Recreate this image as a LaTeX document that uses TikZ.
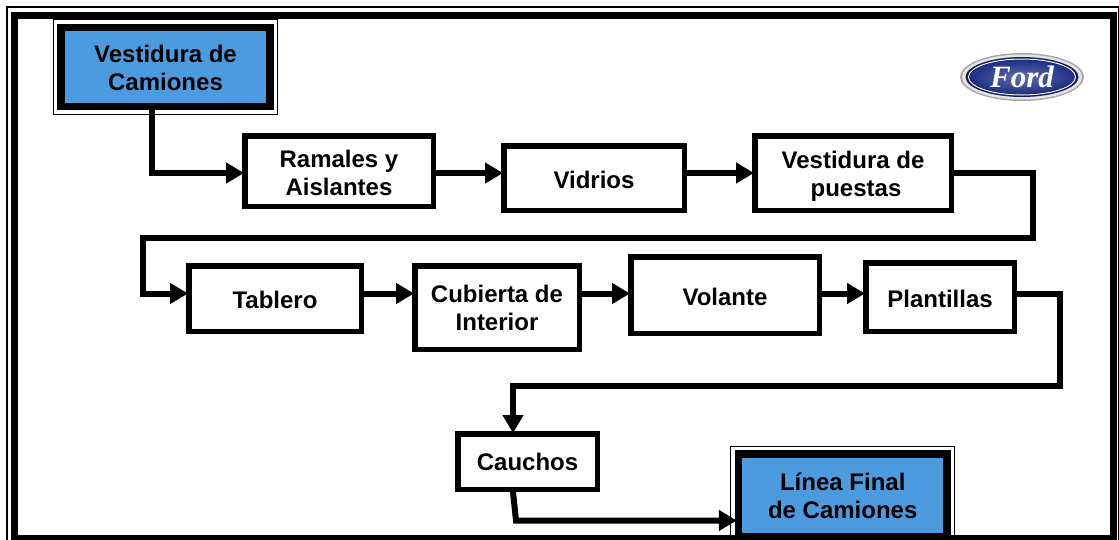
\documentclass[tikz,border=0pt]{standalone}
\usepackage{fontspec}
\setmainfont{Liberation Sans}
\newfontfamily\logofont{Liberation Serif}
\usetikzlibrary{arrows.meta}
\definecolor{boxblue}{HTML}{4D9BDF}
\definecolor{logoblue}{HTML}{1E2F86}
\definecolor{logodark}{HTML}{141E5A}
\newcommand\lowr[2]{\raisebox{-#1}[\height][\depth]{#2}}
\tikzset{
  procbox/.style={draw=black,line width=5.5pt,fill=white,align=center,inner sep=0pt,
    font=\fontsize{24}{28}\selectfont\bfseries},
  termbox/.style={procbox,line width=7.5pt,fill=boxblue},
  conn/.style={line width=6pt,draw=black,-{Triangle[length=18pt,width=20pt]},shorten >=-2pt,line join=miter},
  thin frame/.style={draw=black,line width=1.3pt},
}
\begin{document}
\begin{tikzpicture}[x=1pt,y=-1pt]
\path[use as bounding box,clip] (0,0) rectangle (1119,539);
\fill[white] (0,0) rectangle (1119,539);

% bend points
\coordinate (b1) at (1033,238);
\coordinate (b2) at (143,238);
\coordinate (b3) at (1060,386);
\coordinate (b4) at (513,386);
\coordinate (b5) at (516,520.5);

% boxes
\node[termbox,minimum width=209pt,minimum height=79pt] (start) at (165.5,67) {\lowr{1pt}{Vestidura de}\\\lowr{1pt}{Camiones}};
\node[procbox,minimum width=188.5pt,minimum height=70.5pt] (ram) at (339,171) {\lowr{2pt}{Ramales y}\\\lowr{2pt}{Aislantes}};
\node[procbox,minimum width=180.5pt,minimum height=64.5pt] (vid) at (594,178) {\lowr{2pt}{Vidrios}};
\node[procbox,minimum width=196.5pt,minimum height=74.5pt] (pue) at (853,173) {\lowr{3pt}{Vestidura de}\\\lowr{3pt}{\hspace*{6pt}puestas}};
\node[procbox,minimum width=172.5pt,minimum height=65.5pt] (tab) at (275,298.5) {\lowr{1.5pt}{Tablero}};
\node[procbox,minimum width=164.5pt,minimum height=83.5pt] (cub) at (497,307.5) {Cubierta de\\Interior};
\node[procbox,minimum width=188.5pt,minimum height=76.5pt] (vol) at (725,295) {\lowr{2pt}{Volante}};
\node[procbox,minimum width=148.5pt,minimum height=68.5pt] (pla) at (940,297) {\lowr{2pt}{Plantillas}};
\node[procbox,minimum width=139.5pt,minimum height=55.5pt] (cau) at (527.5,461.5) {Cauchos};
\node[termbox,minimum width=208.5pt,minimum height=83pt] (fin) at (842.75,495.5) {Línea Final\\de Camiones};

% thin outlines round the two blue boxes
\draw[thin frame] ([xshift=-4pt,yshift=4pt]start.north west) rectangle ([xshift=4pt,yshift=-4pt]start.south east);
\draw[thin frame] ([xshift=-4pt,yshift=4pt]fin.north west) rectangle ([xshift=4pt,yshift=-4pt]fin.south east);

% connectors
\draw[conn] ([xshift=-13.5pt]start.south) |- ([yshift=-2pt]ram.west);
\draw[conn] ([yshift=-2pt]ram.east) -- ([yshift=5pt]vid.west);
\draw[conn] ([yshift=5pt]vid.east) -- (pue.west);
\draw[conn] (pue.east) -| (b1) -- (b2) |- ([yshift=5pt]tab.west);
\draw[conn] ([yshift=5pt]tab.east) -- ([yshift=14pt]cub.west);
\draw[conn] ([yshift=14pt]cub.east) -- ([yshift=1.5pt]vol.west);
\draw[conn] ([yshift=1.5pt]vol.east) -- ([yshift=3.5pt]pla.west);
\draw[conn] ([yshift=3.5pt]pla.east) -| (b3) -- (b4) -- ([xshift=-14.5pt]cau.north);
\draw[conn] ([xshift=-14.5pt]cau.south) -- (b5) -- ([yshift=-25pt]fin.west);

% outer frame
\draw[draw=black,line width=1.3pt] (7,7) rectangle (1118.4,545);
\draw[draw=black,line width=7pt] (14.5,15.2) rectangle (1113.5,538.5);

% logo
\fill[black!35] (1022,77) ellipse (62 and 24);
\fill[black!10] (1022,77) ellipse (60 and 22.5);
\fill[logodark] (1022,77) ellipse (56.5 and 20);
\draw[white,line width=1pt] (1022,77) ellipse (53.5 and 18);
\shade[inner color=logoblue!70!white,outer color=logoblue] (1022,77) ellipse (52.5 and 17);
\node[text=white,font=\logofont\fontsize{31}{31}\selectfont\bfseries\itshape,inner sep=0pt] (logo) at (1022,77) {Ford};
\end{tikzpicture}
\end{document}
